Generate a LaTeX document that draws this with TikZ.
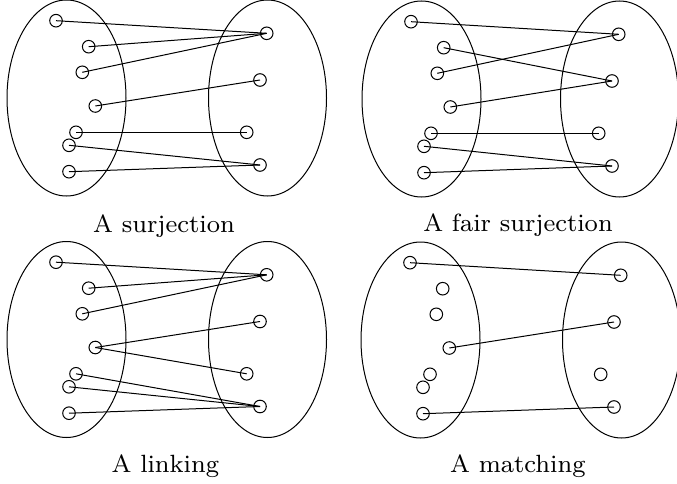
\documentclass[tikz,border=0pt]{standalone}
\usepackage{tikz}
\usepackage{graphicx}
\tikzset{
  pt/.style={circle,draw,line width=1pt,minimum size=12.6pt,inner sep=0pt},
  setell/.style={draw,line width=1pt},
  link/.style={line width=1pt},
  captext/.style={anchor=base,inner sep=0pt}
}
\newcommand\captxt[1]{\scalebox{3.12}{\fontsize{8}{9.6}\selectfont #1}}
% #1 prefix, #2 dxL, #3 dxR, #4 dy
\newcommand\mkpanel[4]{%
  \begin{scope}[shift={(#2,#4)}]
    \draw[setell] (66.5,98) ellipse [x radius=59.5, y radius=98];
    \node[pt] (#1L1) at (56,20.7) {};
    \node[pt] (#1L2) at (88.7,46.7) {};
    \node[pt] (#1L3) at (82.3,72.3) {};
    \node[pt] (#1L4) at (95.3,106) {};
    \node[pt] (#1L5) at (76,132.3) {};
    \node[pt] (#1L6) at (69,145.3) {};
    \node[pt] (#1L7) at (69,171.7) {};
  \end{scope}
  \begin{scope}[shift={(#3,#4)}]
    \draw[setell] (267.5,98) ellipse [x radius=59, y radius=98];
    \node[pt] (#1R1) at (266.7,33.3) {};
    \node[pt] (#1R2) at (260,80) {};
    \node[pt] (#1R3) at (246.7,132.3) {};
    \node[pt] (#1R4) at (260,165) {};
  \end{scope}}
\newcommand\lk[2]{\draw[link] (#1.center) -- (#2.center);}
\begin{document}
\begin{tikzpicture}[x=1pt,y=-1pt]
\useasboundingbox (0,0) rectangle (677,484);
% top-left: surjection
\mkpanel{a}{0}{0}{0}
\lk{aL1}{aR1}\lk{aL2}{aR1}\lk{aL3}{aR1}\lk{aL4}{aR2}\lk{aL5}{aR3}\lk{aL6}{aR4}\lk{aL7}{aR4}
\node[captext] (ca) at (164,232) {\captxt{A surjection}};
% top-right: fair surjection
\mkpanel{b}{355}{352}{1}
\lk{bL1}{bR1}\lk{bL2}{bR2}\lk{bL3}{bR1}\lk{bL4}{bR2}\lk{bL5}{bR3}\lk{bL6}{bR4}\lk{bL7}{bR4}
\node[captext] (cb) at (518,231) {\captxt{A fair surjection}};
% bottom-left: linking
\mkpanel{c}{0}{0}{241.5}
\lk{cL1}{cR1}\lk{cL2}{cR1}\lk{cL3}{cR1}\lk{cL4}{cR2}\lk{cL4}{cR3}\lk{cL5}{cR4}\lk{cL6}{cR4}\lk{cL7}{cR4}
\node[captext] (cc) at (165.3,472) {\captxt{A linking}};
% bottom-right: matching
\mkpanel{d}{354}{354}{242}
\lk{dL1}{dR1}\lk{dL4}{dR2}\lk{dL7}{dR4}
\node[captext] (cd) at (517.8,472) {\captxt{A matching}};
\end{tikzpicture}
\end{document}
